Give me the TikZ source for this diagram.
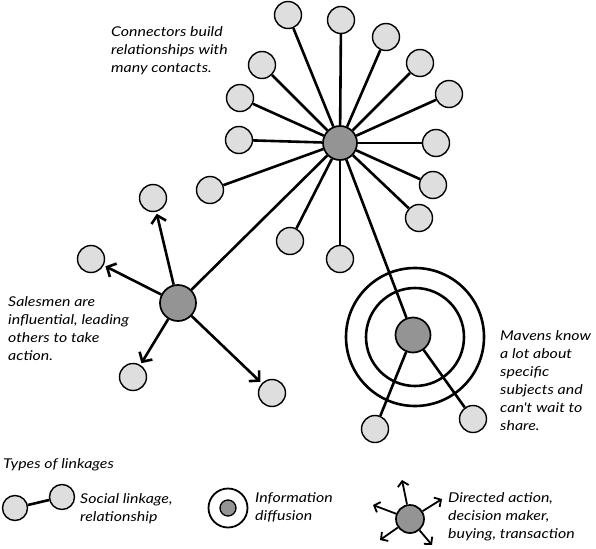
\documentclass[tikz,border=0pt]{standalone}
\usepackage{fontspec}
\newfontfamily\handfont{Lato}[FakeStretch=1.18]
\usetikzlibrary{arrows.meta}

\begin{document}
\begin{tikzpicture}[x=1pt,y=-1pt]
    \tikzset{leaf/.style = {shape=circle,draw,line width=1.4pt,fill=black!13,minimum size=27pt,inner sep=0pt}}
    \tikzset{hub/.style = {shape=circle,draw,line width=1.7pt,fill=black!42,minimum size=34pt,inner sep=0pt}}
    \tikzset{edge/.style = {line width=2.6pt}}
    \tikzset{act/.style = {edge,-{Straight Barb[length=7pt,width=15pt]},shorten >=2pt}}
    \tikzset{note/.style = {anchor=north west,align=left,inner sep=0pt,font=\handfont\itshape\fontsize{13.5}{18}\selectfont}}
    \useasboundingbox (0,0) rectangle (596,548);
    % connector
    \node[hub] (c) at (340,143) {};
    \node[leaf] (c1) at (288,15) {};
    \node[leaf] (c2) at (341,20) {};
    \node[leaf] (c3) at (386,37) {};
    \node[leaf] (c4) at (420,63) {};
    \node[leaf] (c5) at (449,94) {};
    \node[leaf] (c6) at (436,143) {};
    \node[leaf] (c7) at (433,185) {};
    \node[leaf] (c8) at (419,218) {};
    \node[leaf] (c9) at (340,259) {};
    \node[leaf] (c10) at (290,241) {};
    \node[leaf] (c11) at (210,190) {};
    \node[leaf] (c12) at (239,140) {};
    \node[leaf] (c13) at (240,98) {};
    \node[leaf] (c14) at (262,65) {};
    \draw[edge] (c) to (c1);
    \draw[edge] (c) to (c2);
    \draw[edge] (c) to (c3);
    \draw[edge] (c) to (c4);
    \draw[edge] (c) to (c5);
    \draw[edge] (c) to (c6);
    \draw[edge] (c) to (c7);
    \draw[edge] (c) to (c8);
    \draw[edge] (c) to (c9);
    \draw[edge] (c) to (c10);
    \draw[edge] (c) to (c11);
    \draw[edge] (c) to (c12);
    \draw[edge] (c) to (c13);
    \draw[edge] (c) to (c14);
    % salesman
    \node[hub,minimum size=36pt] (s) at (178,303) {};
    \node[leaf] (s1) at (153,198) {};
    \node[leaf] (s2) at (91,259) {};
    \node[leaf] (s3) at (133,377) {};
    \node[leaf] (s4) at (272,393) {};
    \draw[act] (s) to (s1);
    \draw[act] (s) to (s2);
    \draw[act] (s) to (s3);
    \draw[act] (s) to (s4);
    \draw[edge] (s) to (c);
    % maven
    \coordinate (mr) at (415,337);
    \draw[edge] (mr) circle[radius=49];
    \draw[edge] (mr) circle[radius=69];
    \node[hub,minimum size=35pt] (m) at (413,335) {};
    \node[leaf] (m1) at (375,429) {};
    \node[leaf] (m2) at (473,419) {};
    \draw[edge] (m) to (m1);
    \draw[edge] (m) to (m2);
    \draw[edge] (c) to (m);
    % notes
    \node[note] (tc) at (111,26) {Connectors build\\relationships with\\many contacts.};
    \node[note] (ts) at (8,296) {Salesmen are\\influential, leading\\others to take\\action.};
    \node[note] (tm) at (500,330) {Mavens know\\a lot about\\specific\\subjects and\\can't wait to\\share.};
    % legend
    \node[note] (tl) at (3,458) {Types of linkages};
    \node[leaf,minimum size=25pt] (l1) at (15,508) {};
    \node[leaf,minimum size=25pt] (l2) at (62,497) {};
    \draw[edge] (l1) to (l2);
    \node[note] (tl1) at (80,493) {Social linkage,\\relationship};
    \node[hub,minimum size=16pt,line width=1.3pt] (i) at (228,508) {};
    \draw[line width=1.8pt] (i) circle[radius=19.5];
    \node[note] (tl2) at (255,492) {Information\\diffusion};
    \node[hub,minimum size=28pt] (d) at (410,519) {};
    \coordinate (d1) at (402,480);
    \coordinate (d2) at (373,505);
    \coordinate (d3) at (442,499);
    \coordinate (d4) at (380,540);
    \coordinate (d5) at (432,545);
    \draw[act,line width=1.8pt,-{Straight Barb[length=5pt,width=11pt]},shorten >=0pt] (d) to (d1);
    \draw[act,line width=1.8pt,-{Straight Barb[length=5pt,width=11pt]},shorten >=0pt] (d) to (d2);
    \draw[act,line width=1.8pt,-{Straight Barb[length=5pt,width=11pt]},shorten >=0pt] (d) to (d3);
    \draw[act,line width=1.8pt,-{Straight Barb[length=5pt,width=11pt]},shorten >=0pt] (d) to (d4);
    \draw[act,line width=1.8pt,-{Straight Barb[length=5pt,width=11pt]},shorten >=0pt] (d) to (d5);
    \node[note] (tl3) at (448,492) {Directed action,\\decision maker,\\buying, transaction};
\end{tikzpicture}
\end{document}
